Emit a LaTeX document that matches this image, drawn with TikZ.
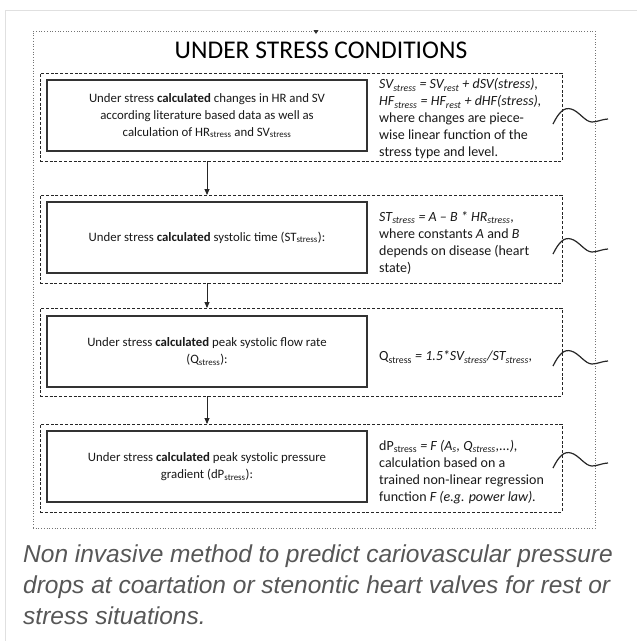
\documentclass[tikz,border=0pt]{standalone}
\usepackage{fontspec}
\setmainfont{Carlito}
\newfontfamily\capfont{Liberation Sans}
\usetikzlibrary{arrows.meta}
\newcommand{\sbs}[1]{\textsubscript{#1}}
\begin{document}
\begin{tikzpicture}[x=1pt,y=-1pt,
  outerbox/.style={draw=black!55, line width=0.7pt, dotted, inner sep=0pt, outer sep=0pt, anchor=north west},
  dashbox/.style={draw=black!85, line width=1pt, dash pattern=on 3pt off 1.8pt, inner sep=0pt, outer sep=0pt, anchor=north west, minimum width=522pt, minimum height=88pt},
  solidbox/.style={draw=black!80, line width=1.5pt, inner sep=0pt, outer sep=0pt, anchor=north west, minimum width=320pt, minimum height=71pt,
     font=\fontsize{12.8}{17}\selectfont, text=black!90, align=center},
  righttext/.style={font=\fontsize{14}{17}\selectfont, text=black!90, align=left, anchor=west, inner sep=0pt},
  flow/.style={draw=black!85, line width=0.8pt, -{Triangle[length=6pt,width=5pt]}},
  wave/.style={draw=black!85, line width=1.2pt},
  squig/.pic={\draw[wave] (-26,6) .. controls (-20,-6) and (-15,-11) .. (-8,-9) .. controls (0,-7) and (6,4) .. (13,4) .. controls (18,4) and (24,1) .. (29,1);},
  captext/.style={font=\capfont\itshape\fontsize{24.5}{31}\selectfont, text=black!66, anchor=base west, inner sep=0pt}
]
\useasboundingbox (0,0) rectangle (637,641);
\fill[white] (0,0) rectangle (637,641);
% card border
\draw[black!12, line width=1pt] (5,641) -- (5,10) -- (637,10);

% outer dotted frame
\node[outerbox, minimum width=562pt, minimum height=497pt] (outer) at (33,31) {};
\fill[black!80] (313.5,30) -- (318.5,30) -- (316,34) -- cycle;

\node[font=\fontsize{25.5}{28}\selectfont, text=black] (title) at (321,50) {UNDER STRESS CONDITIONS};

% box 1
\node[dashbox] (d1) at (40,73) {};
\node[solidbox] (s1) at (47,80) {Under stress \textbf{calculated} changes in HR and SV\\according literature based data as well as\\calculation of HR\sbs{stress} and SV\sbs{stress}};
\node[righttext] (r1) at (379,119) {\textit{SV\sbs{stress} = SV\sbs{rest} + dSV(stress),}\\\textit{HF\sbs{stress} = HF\sbs{rest} + dHF(stress),}\\where changes are piece-\\wise linear function of the\\stress type and level.};

% box 2
\node[dashbox] (d2) at (40,195) {};
\node[solidbox] (s2) at (47,202) {Under stress \textbf{calculated} systolic time (ST\sbs{stress}):};
\node[righttext] (r2) at (379,243) {\textit{ST\sbs{stress} = A -- B * HR\sbs{stress},}\\where constants \textit{A} and \textit{B}\\depends on disease (heart\\state)};

% box 3
\node[dashbox] (d3) at (40,308) {};
\node[solidbox] (s3) at (47,316) {Under stress \textbf{calculated} peak systolic flow rate\\(Q\sbs{stress}):};
\node[righttext] (r3) at (379,357) {Q\sbs{stress} \textit{= 1.5*SV\sbs{stress}/ST\sbs{stress},}};

% box 4
\node[dashbox] (d4) at (40,424) {};
\node[solidbox] (s4) at (47,431) {Under stress \textbf{calculated} peak systolic pressure\\gradient (dP\sbs{stress}):};
\node[righttext] (r4) at (379,472) {dP\sbs{stress} \textit{= F (A\sbs{s}, Q\sbs{stress},...),}\\calculation based on a\\trained non-linear regression\\function \textit{F (e.g. power law).}};

% arrows
\coordinate (ax) at (207,0);
\draw[flow] (d1.south -| ax) -- (d2.north -| ax);
\draw[flow] (d2.south -| ax) -- (d3.north -| ax);
\draw[flow] (d3.south -| ax) -- (d4.north -| ax);

% squiggles
\pic at (579,118) {squig};
\pic at (579,248) {squig};
\pic at (579,360) {squig};
\pic at (579,462) {squig};

% caption
\node[captext] (cap1) at (23,562) {Non invasive method to predict cariovascular pressure};
\node[captext] (cap2) at (23,593) {drops at coartation or stenontic heart valves for rest or};
\node[captext] (cap3) at (23,624) {stress situations.};
\end{tikzpicture}
\end{document}
